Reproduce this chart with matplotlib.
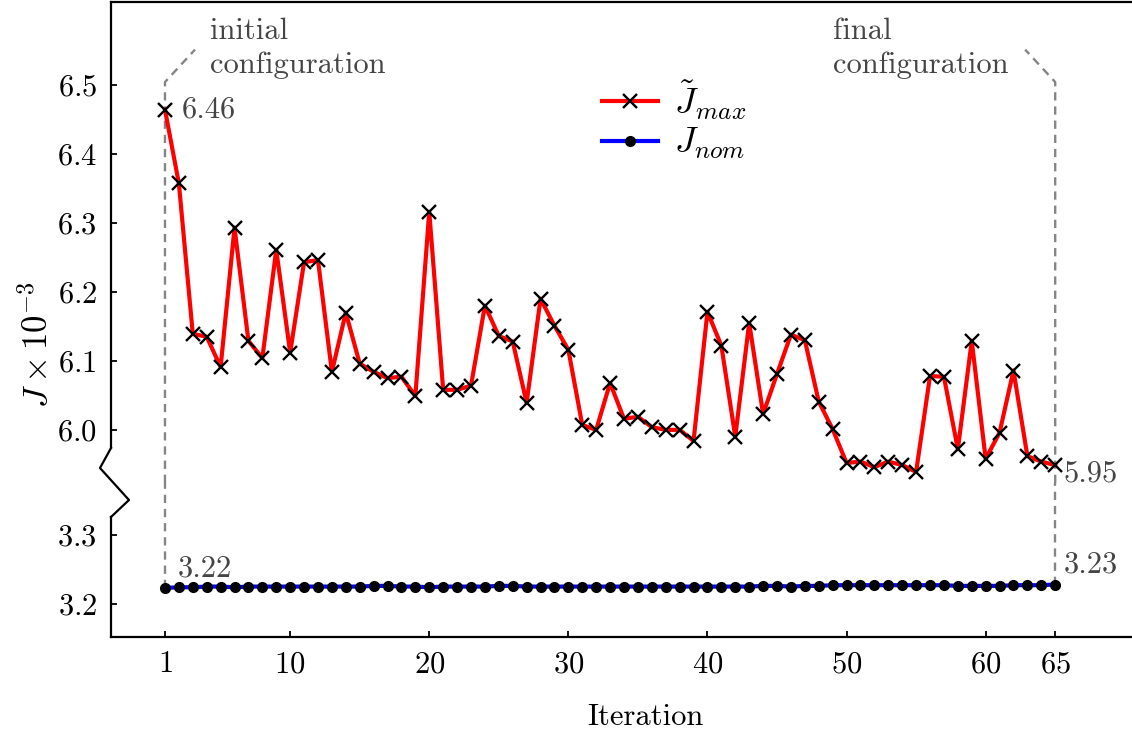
import numpy as np
import matplotlib.pyplot as plt
from matplotlib.lines import Line2D

# ------------------------------------------------------------
# style
# ------------------------------------------------------------
plt.rcParams["font.family"] = "cmr10"
plt.rcParams["mathtext.fontset"] = "cm"
plt.rcParams["axes.formatter.use_mathtext"] = True
plt.rcParams["font.size"] = 22

# ------------------------------------------------------------
# data
# ------------------------------------------------------------
iterations = list(range(1, 66))

j_max = [6.464, 6.357, 6.139, 6.135, 6.091, 6.293, 6.129, 6.104, 6.261, 6.112,
         6.243, 6.246, 6.084, 6.170, 6.096, 6.084, 6.075, 6.077, 6.049, 6.316,
         6.058, 6.058, 6.064, 6.180, 6.136, 6.128, 6.039, 6.190, 6.151, 6.116,
         6.007, 6.000, 6.068, 6.016, 6.019, 6.004, 6.000, 6.000, 5.984, 6.171,
         6.122, 5.990, 6.155, 6.023, 6.081, 6.138, 6.130, 6.041, 6.001, 5.952,
         5.954, 5.946, 5.954, 5.949, 5.939, 6.078, 6.077, 5.972, 6.129, 5.958,
         5.996, 6.086, 5.962, 5.954, 5.949]

j_nom = [3.223, 3.224, 3.224, 3.225, 3.225, 3.224, 3.225, 3.225, 3.225, 3.225,
         3.225, 3.225, 3.225, 3.225, 3.225, 3.226, 3.226, 3.225, 3.225, 3.224,
         3.225, 3.225, 3.225, 3.225, 3.226, 3.226, 3.225, 3.225, 3.225, 3.225,
         3.225, 3.225, 3.225, 3.225, 3.225, 3.225, 3.225, 3.225, 3.225, 3.225,
         3.225, 3.225, 3.225, 3.226, 3.226, 3.225, 3.226, 3.226, 3.227, 3.227,
         3.227, 3.227, 3.227, 3.227, 3.227, 3.227, 3.227, 3.226, 3.226, 3.226,
         3.226, 3.227, 3.227, 3.227, 3.228]

x_ticks = [1, 10, 20, 30, 40, 50, 60, 65]
y_ticks_top = [6.0, 6.1, 6.2, 6.3, 6.4, 6.5]
y_ticks_bot = [3.2, 3.3]

label_first_max = "6.46"
label_last_max = "5.95"
label_first_nom = "3.22"
label_last_nom = "3.23"

# ------------------------------------------------------------
# layout (pixels of the 1132x731 output)
# ------------------------------------------------------------
W, H = 1132, 731
fig = plt.figure(figsize=(W / 100, H / 100), dpi=100)


def fx(px):
    return px / W


def fy(py):
    return 1 - py / H


LEFT, RIGHT = 111, 1179
TOP, SPLIT, BOTTOM = 2, 483, 637

ax_top = fig.add_axes([fx(LEFT), fy(SPLIT), fx(RIGHT) - fx(LEFT), fy(TOP) - fy(SPLIT)])
ax_bot = fig.add_axes([fx(LEFT), fy(BOTTOM), fx(RIGHT) - fx(LEFT), fy(SPLIT) - fy(BOTTOM)])

XLIM = (-2.88, 73.9)
ax_top.set_xlim(*XLIM)
ax_bot.set_xlim(*XLIM)
ax_top.set_ylim(5.923, 6.620)
ax_bot.set_ylim(3.152, 3.375)

# ------------------------------------------------------------
# data lines
# ------------------------------------------------------------
GRAY_TXT = "#454545"
GRAY_DASH = "#858585"

ax_top.plot(iterations, j_max, color="red", lw=3.0, marker="x", ms=10,
            mec="black", mew=1.7, label=r"$\tilde{J}_{max}$", zorder=3)
ax_bot.plot(iterations, j_nom, color="blue", lw=3.0, marker="o", ms=7,
            mec="black", mfc="black", label=r"$J_{nom}$", zorder=3)

# ------------------------------------------------------------
# dashed guides to initial / final configuration
# ------------------------------------------------------------
x0, x1 = iterations[0], iterations[-1]
knee = 6.504
tip = 6.551
dx = 2.16
ylo_top = ax_top.get_ylim()[0]
yhi_bot = ax_bot.get_ylim()[1]
DASH = (0, (3.5, 2.5))

ax_top.plot([x0, x0, x0 + dx], [ylo_top, knee, tip], ls=DASH,
            color=GRAY_DASH, lw=1.7, zorder=1, clip_on=False)
ax_top.plot([x1, x1, x1 - dx], [ylo_top, knee, tip], ls=DASH,
            color=GRAY_DASH, lw=1.7, zorder=1, clip_on=False)
ax_bot.plot([x0, x0], [j_nom[0], yhi_bot], ls=DASH,
            color=GRAY_DASH, lw=1.7, zorder=1)
ax_bot.plot([x1, x1], [j_nom[-1], yhi_bot], ls=DASH,
            color=GRAY_DASH, lw=1.7, zorder=1)

ax_top.text(4.24, 6.553, "initial\nconfiguration", color=GRAY_TXT,
            ha="left", va="center", fontsize=22, linespacing=1.3)
ax_top.text(49.04, 6.553, "final\nconfiguration", color=GRAY_TXT,
            ha="left", va="center", fontsize=22, linespacing=1.3)

# value labels
ax_top.annotate(label_first_max, (x0, j_max[0]), xytext=(12, 0),
                textcoords="offset points", color=GRAY_TXT, va="center", ha="left")
ax_top.annotate(label_last_max, (x1, j_max[-1]), xytext=(6, -6),
                textcoords="offset points", color=GRAY_TXT, va="center", ha="left")
ax_bot.annotate(label_first_nom, (x0, j_nom[0]), xytext=(9, 14),
                textcoords="offset points", color=GRAY_TXT, va="center", ha="left")
ax_bot.annotate(label_last_nom, (x1, j_nom[-1]), xytext=(6, 14),
                textcoords="offset points", color=GRAY_TXT, va="center", ha="left")

# ------------------------------------------------------------
# axes / spines / ticks
# ------------------------------------------------------------
for ax in (ax_top, ax_bot):
    for s in ax.spines.values():
        s.set_linewidth(1.6)
    ax.spines["right"].set_visible(False)
    ax.tick_params(direction="in", length=4.5, width=1.3, pad=10, labelsize=22)
    ax.set_facecolor("none")

ax_top.spines["bottom"].set_visible(False)
ax_bot.spines["top"].set_visible(False)
ax_top.tick_params(bottom=False, labelbottom=False)

ax_top.set_yticks(y_ticks_top)
ax_bot.set_yticks(y_ticks_bot)
ax_bot.set_xticks(x_ticks)

# break in the left spine
brk_hi = 6.5 - (448 - 85) / 690
brk_lo = 3.3 + (535 - 517) / 690
ax_top.spines["left"].set_bounds(brk_hi, ax_top.get_ylim()[1])
ax_bot.spines["left"].set_bounds(ax_bot.get_ylim()[0], brk_lo)

zig_x = [LEFT, LEFT - 11, LEFT + 18, LEFT]
zig_y = [448, 468, 500, 517]
fig.add_artist(Line2D([fx(v) for v in zig_x], [fy(v) for v in zig_y],
                      color="black", lw=1.6, transform=fig.transFigure))

# ------------------------------------------------------------
# labels / legend
# ------------------------------------------------------------
fig.text(fx(37), fy(345), r"$J \times 10^{-3}$", rotation=90,
         ha="center", va="center", fontsize=25)
ax_bot.set_xlabel("Iteration", fontsize=22, labelpad=18)

h1, l1 = ax_top.get_legend_handles_labels()
h2, l2 = ax_bot.get_legend_handles_labels()
ax_top.legend(h1 + h2, l1 + l2, loc="upper left", bbox_to_anchor=(0.446, 0.871),
              borderaxespad=0, frameon=False, numpoints=1, fontsize=26,
              handlelength=1.55, handletextpad=0.45, labelspacing=0.12)

fig.savefig("out.png", dpi=100)
